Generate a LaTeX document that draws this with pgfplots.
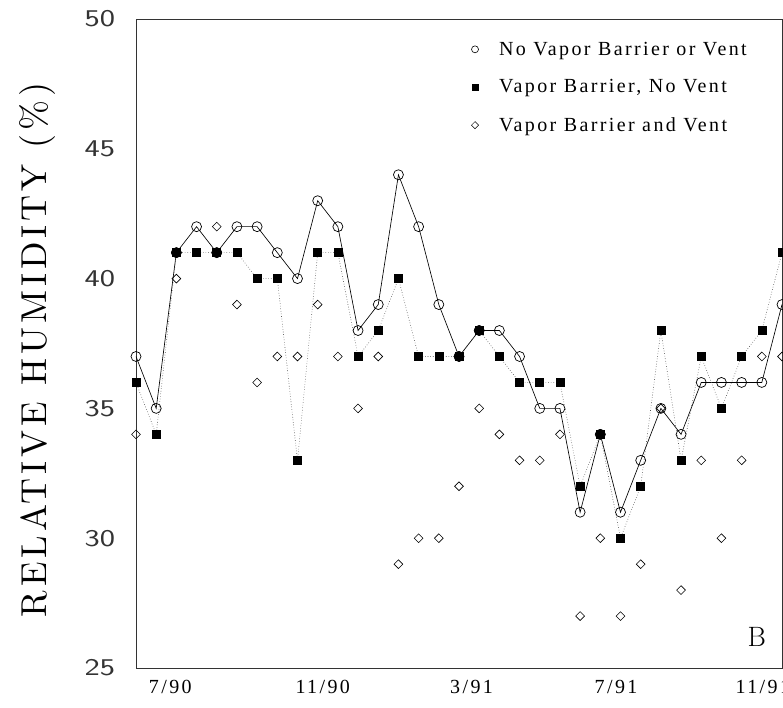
\documentclass[border=0pt]{standalone}
\usepackage{fontspec}
\usepackage{pgfplots}
\pgfplotsset{compat=1.18}
\newfontfamily\lgfont{Liberation Serif}[LetterSpace=12]
\newfontfamily\lmlab{lmroman10-regular}[Extension=.otf, LetterSpace=11]

\pgfplotstableread{
x y
0 37
1 35
2 41
3 42
4 41
5 42
6 42
7 41
8 40
9 43
10 42
11 38
12 39
13 44
14 42
15 39
16 37
17 38
18 38
19 37
20 35
21 35
22 31
23 34
24 31
25 33
26 35
27 34
28 36
29 36
30 36
31 36
32 39
}\novapor

\pgfplotstableread{
x y
0 36
1 34
2 41
3 41
4 41
5 41
6 40
7 40
8 33
9 41
10 41
11 37
12 38
13 40
14 37
15 37
16 37
17 38
18 37
19 36
20 36
21 36
22 32
23 34
24 30
25 32
26 38
27 33
28 37
29 35
30 37
31 38
32 41
}\barrier

\pgfplotstableread{
x y
0 34
2 40
4 42
5 39
6 36
7 37
8 37
9 39
10 37
11 35
12 37
13 29
14 30
15 30
16 32
17 35
18 34
19 33
20 33
21 34
22 27
23 30
24 27
25 29
26 35
27 28
28 33
29 30
30 33
31 37
32 37
}\vent

\pgfplotsset{legend image code/.code={\draw[#1] plot coordinates {(10pt,0pt)}; \path[draw=none] (0pt,0pt) (32pt,0pt);}}

\begin{document}
\begin{tikzpicture}
\begin{axis}[
  at={(0,0)}, anchor=south west,
  scale only axis, width=646pt, height=649pt,
  xmin=0, xmax=32, ymin=25, ymax=50,
  ytick={25,30,35,40,45,50},
  xtick={1.70,9.25,16.62,23.78,31.05},
  xticklabels={7/90,11/90,3/91,7/91,11/91},
  major tick length=0pt,
  axis line style={line width=0.6pt, black!80},
  xticklabel style={font=\lgfont\fontsize{20}{20}\selectfont, yshift=-9pt},
  yticklabel style={font=\fontsize{24}{24}\selectfont\sffamily, xscale=1.35, xshift=-12pt, text=black!80},
  /pgf/number format/assume math mode=true,
  ylabel={RELATIVE HUMIDITY (\%)},
  ylabel style={at={(axis description cs:-0.153,0.49)}, anchor=center,
    font=\lmlab\fontsize{36}{36}\selectfont},
  legend style={at={(axis description cs:0.509,0.968)}, anchor=north west,
    draw=none, fill=none, font=\lgfont\fontsize{20}{20}\selectfont,
    row sep=19pt, inner sep=0pt},
  legend cell align=left,
]
\addlegendimage{black, mark=o, mark size=3.5pt, mark options={line width=0.6pt}}
\addlegendentry{No Vapor Barrier or Vent}
\addlegendimage{black, mark=square*, mark size=3pt}
\addlegendentry{Vapor Barrier, No Vent}
\addlegendimage{black, mark=square, mark size=2.5pt, mark options={rotate=45, line width=0.5pt}}
\addlegendentry{Vapor Barrier and Vent}

\addplot[forget plot, black, line width=0.65pt, mark=o, mark size=5pt,
  mark options={fill=white, solid, line width=0.7pt}] table {\novapor};
\addplot[forget plot, black!70, line width=0.6pt, dotted, mark=square*, mark size=4pt,
  mark options={solid, fill=black, draw=black}] table {\barrier};
\addplot[forget plot, only marks, mark=square, mark size=3.1pt,
  mark options={rotate=45, line width=0.6pt, fill=white}] table {\vent};
\addplot[forget plot, only marks, mark=*, mark size=5pt, mark options={fill=black}]
  coordinates {(2,41) (4,41) (16,37) (17,38) (23,34)};

\node[font=\fontsize{28}{28}\selectfont] at (rel axis cs:0.961,0.048) {B};
\end{axis}
\pgfresetboundingbox
\path (-136pt,-40pt) rectangle (647pt,668pt);
\end{tikzpicture}
\end{document}
